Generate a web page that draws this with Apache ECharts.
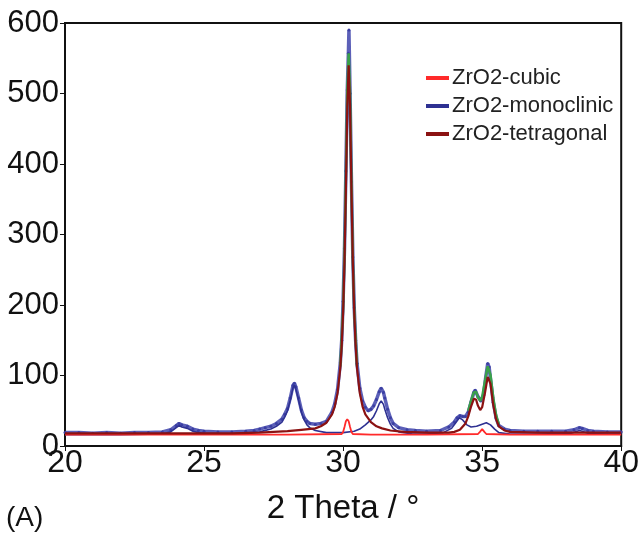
<!DOCTYPE html>
<html>
<head>
<meta charset="utf-8">
<script src="https://cdn.jsdelivr.net/npm/echarts@6/dist/echarts.min.js"></script>
<style>
html,body{margin:0;padding:0;background:#fff;}
#chart{width:642px;height:537px;}
</style>
</head>
<body>
<div id="chart"></div>
<script>
// ---- data (x = 2 Theta in degrees, y = intensity) ----
var xTicks = [20, 25, 30, 35, 40];
var yTicks = [0, 100, 200, 300, 400, 500, 600];
var seriesNames = ['ZrO2-cubic', 'ZrO2-monoclinic', 'ZrO2-tetragonal'];

var observed = [
  [20.0,19],[20.5,19],[21.0,18],[21.5,19],[22.0,18],[22.5,19],[23.0,19],[23.5,20],[23.8,23],[24.0,29],[24.1,32],[24.2,30],[24.4,28],[24.6,24],[24.8,22],[25.0,21],
  [25.5,20],[26.0,20],[26.5,21],[26.8,22],[27.0,24],[27.2,26],[27.4,28],[27.6,32],[27.8,38],[27.9,45],[28.0,53],[28.1,68],[28.2,86],[28.25,89],[28.3,84],
  [28.4,68],[28.5,51],[28.6,40],[28.7,35],[28.8,32],[29.0,31],[29.2,32],[29.4,35],[29.6,48],[29.7,60],[29.8,80],[29.9,118],[29.95,150],[30.0,205],
  [30.05,280],[30.1,390],[30.15,505],[30.19,557],[30.21,590],[30.25,500],[30.3,375],[30.35,268],[30.4,196],[30.45,150],[30.5,117],[30.6,82],
  [30.7,64],[30.8,55],[30.9,50],[31.0,52],[31.1,57],[31.2,66],[31.3,77],[31.37,82],[31.45,76],[31.5,68],[31.6,52],[31.7,40],[31.8,32],[32.0,26],
  [32.3,23],[32.6,22],[33.0,21],[33.5,22],[33.8,27],[34.0,34],[34.1,40],[34.2,43],[34.3,42],[34.4,42],[34.5,48],[34.6,62],[34.7,76],[34.75,79],
  [34.85,70],[34.95,64],[35.05,72],[35.12,95],[35.2,117],[35.25,112],[35.3,95],[35.4,62],[35.5,40],[35.6,29],[35.8,24],[36.0,22],[36.5,21],
  [37.0,21],[37.5,21],[38.0,21],[38.3,23],[38.5,26],[38.6,25],[38.8,22],[39.0,21],[39.5,20],[40.0,20]
];

var fitMainPeak = [
  [29.9,113],[30.0,195],[30.05,272],[30.1,383],[30.15,504],[30.2,557],[30.25,500],[30.3,372],[30.35,265],[30.4,193],[30.5,113]
];
var fitDoublet = [
  [34.5,50],[34.6,64],[34.7,76],[34.78,77],[34.85,69],[34.93,64],[35.0,70],[35.1,92],[35.2,113],[35.25,112],[35.3,101],[35.4,68],[35.5,44],[35.6,31]
];

var cubic = [
  [20.0,16],[22.0,16],[24.0,16],[26.0,16],[28.0,16],[29.95,17],[30.0,20],[30.05,27],[30.1,35],[30.15,38],[30.2,35],[30.25,27],[30.3,20],[30.35,17],
  [31.0,16],[33.0,16],[34.85,17],[34.92,20],[35.0,24],[35.08,20],[35.15,17],[36.0,16],[38.0,16],[40.0,16]
];

var monoclinic = [
  [20.0,16],[22.0,16],[23.5,17],[23.8,20],[24.0,26],[24.1,29],[24.2,27],[24.4,25],[24.6,21],[24.8,19],[25.0,18],[26.0,17],[27.0,20],[27.4,24],
  [27.6,28],[27.8,34],[27.9,41],[28.0,50],[28.1,65],[28.2,83],[28.25,86],[28.3,81],[28.4,65],[28.5,48],[28.6,37],[28.7,30],[28.8,26],[29.0,22],
  [29.4,19],[30.0,19],[30.4,21],[30.6,24],[30.8,30],[31.0,37],[31.1,42],[31.2,50],[31.3,60],[31.37,64],[31.45,59],[31.5,52],[31.6,40],[31.7,31],
  [31.8,25],[32.0,20],[32.5,17],[33.0,17],[33.6,19],[33.9,25],[34.05,33],[34.18,40],[34.3,37],[34.45,30],[34.6,27],[34.8,28],[35.0,31],[35.15,33],
  [35.3,30],[35.45,24],[35.6,19],[36.0,17],[37.0,17],[38.2,18],[38.5,22],[38.6,21],[38.8,18],[39.5,17],[40.0,17]
];

var tetragonal = [
  [20.0,18],[22.0,18],[24.0,18],[26.0,18],[27.0,19],[28.0,21],[28.5,23],[29.0,25],[29.2,28],[29.4,33],[29.6,45],[29.7,56],[29.8,75],[29.9,111],
  [29.95,143],[30.0,190],[30.05,261],[30.1,364],[30.15,481],[30.2,540],[30.25,481],[30.3,364],[30.35,261],[30.4,190],[30.45,143],[30.5,111],
  [30.6,75],[30.7,56],[30.8,45],[31.0,34],[31.2,28],[31.4,25],[31.7,22],[32.2,20],[33.0,19],[33.8,19],[34.0,20],[34.2,23],[34.4,32],[34.5,42],
  [34.6,56],[34.7,67],[34.78,66],[34.85,57],[34.93,51],[35.0,55],[35.1,75],[35.2,98],[35.25,99],[35.3,88],[35.4,58],[35.5,38],[35.6,28],[35.8,22],
  [36.0,20],[37.0,19],[38.0,19],[39.0,19],[40.0,19]
];

var FONT = '"Liberation Sans", Arial, sans-serif';

var chart = echarts.init(document.getElementById('chart'), null, {renderer: 'canvas'});
chart.setOption({
  animation: false,
  backgroundColor: '#ffffff',
  grid: {left: 65, right: 20, top: 23, bottom: 91, show: true, borderColor: '#111', borderWidth: 2, backgroundColor: 'transparent'},
  legend: {
    data: seriesNames.map(function(n){ return {name: n, icon: 'rect'}; }),
    orient: 'vertical', left: 421, top: 62,
    itemWidth: 23, itemHeight: 4, itemGap: 6,
    textStyle: {fontFamily: FONT, fontSize: 22, color: '#222', padding: [0,0,0,-2]}
  },
  xAxis: {
    type: 'value', min: xTicks[0], max: xTicks[xTicks.length-1], interval: 5,
    name: '2 Theta / °', nameLocation: 'middle', nameGap: 46,
    nameTextStyle: {fontFamily: FONT, fontSize: 33, color: '#111'},
    axisLine: {show: true, onZero: false, lineStyle: {color: '#111', width: 2}},
    axisTick: {show: true, length: 5, lineStyle: {color: '#111', width: 1}},
    axisLabel: {fontFamily: FONT, fontSize: 32, color: '#111', margin: 2, lineHeight: 30},
    splitLine: {show: false}
  },
  yAxis: {
    type: 'value', min: yTicks[0], max: yTicks[yTicks.length-1], interval: 100,
    axisLine: {show: true, lineStyle: {color: '#111', width: 2}},
    axisTick: {show: true, length: 5, lineStyle: {color: '#111', width: 1}},
    axisLabel: {fontFamily: FONT, fontSize: 31, color: '#111', margin: 6},
    splitLine: {show: false}
  },
  graphic: [{
    type: 'text', left: 6, top: 504,
    style: {text: '(A)', fontFamily: FONT, fontSize: 28, fill: '#111'}
  }],
  series: [
    {name: 'observed', type: 'line', data: observed, z: 1, symbol: 'circle', symbolSize: 3, showSymbol: true,
     itemStyle: {color: '#3b3fa3'}, lineStyle: {color: '#4a4fb0', width: 3.5, opacity: 0.9}, legendHoverLink: false},
    {name: 'fit-main', type: 'line', data: fitMainPeak, z: 2, symbol: 'none', lineStyle: {color: '#3aa14a', width: 2.5}},
    {name: 'fit-doublet', type: 'line', data: fitDoublet, z: 2, symbol: 'none', lineStyle: {color: '#3aa14a', width: 2.5}},
    {name: seriesNames[1], type: 'line', data: monoclinic, z: 3, symbol: 'none', lineStyle: {color: '#2e3192', width: 1.6}, itemStyle: {color: '#2e3192'}},
    {name: seriesNames[0], type: 'line', data: cubic, z: 4, symbol: 'none', lineStyle: {color: '#ff2a2a', width: 1.8}, itemStyle: {color: '#ff2a2a'}},
    {name: seriesNames[2], type: 'line', data: tetragonal, z: 5, symbol: 'none', lineStyle: {color: '#8b1212', width: 2.2}, itemStyle: {color: '#8b1212'}}
  ]
});
</script>
</body>
</html>
